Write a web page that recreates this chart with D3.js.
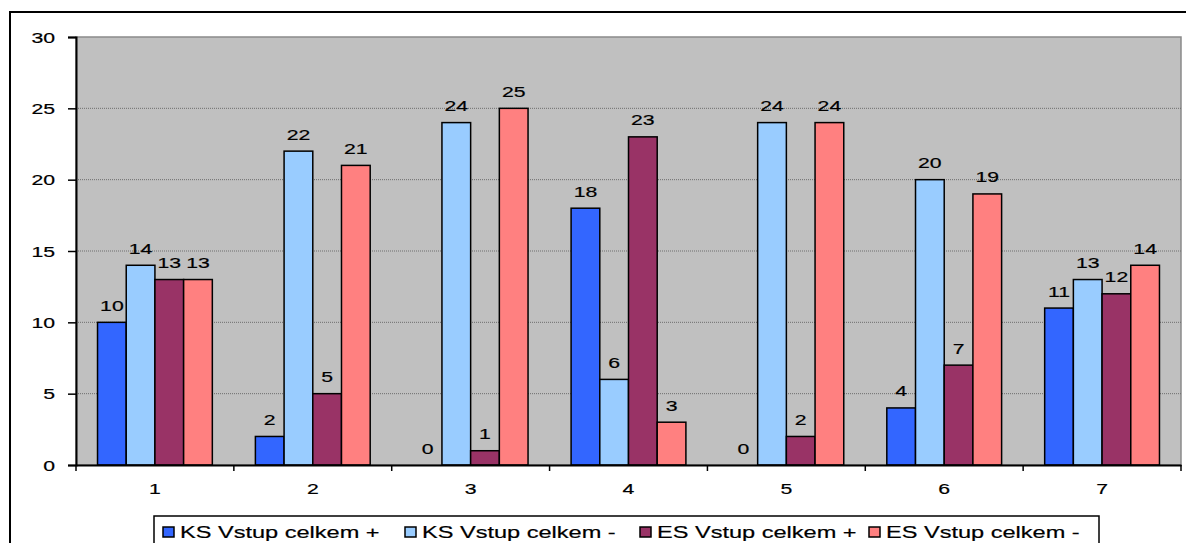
<!DOCTYPE html>
<html><head><meta charset="utf-8">
<script src="https://cdn.jsdelivr.net/npm/d3@7"></script>
<style>body{margin:0;background:#fff}svg{display:block}text{font-family:Arial,"Liberation Sans",sans-serif}</style>
</head><body><svg id="c" width="1186" height="543"></svg>
<script>
const categories = ["1","2","3","4","5","6","7"];
const seriesNames = ["KS Vstup celkem +","KS Vstup celkem -","ES Vstup celkem +","ES Vstup celkem -"];
const ksPlus  = [10, 2, 0, 18, 0, 4, 11];
const ksMinus = [14, 22, 24, 6, 24, 20, 13];
const esPlus  = [13, 5, 1, 23, 2, 7, 12];
const esMinus = [13, 21, 25, 3, 24, 19, 14];
const yTicks = [0,5,10,15,20,25,30];
const colors = ["#3366FF","#99CCFF","#993366","#FF8080"];
const series = [ksPlus, ksMinus, esPlus, esMinus];

const svg = d3.select("#c");
const SX = 1.37, FS = 15.5;
function stext(g, x, y, str, anchor, size){
  return g.append("text").attr("font-size", size||FS).attr("fill","#000")
    .attr("stroke","#000").attr("stroke-width",0.2)
    .attr("text-anchor", anchor||"middle")
    .attr("transform", `translate(${x},${y}) scale(${SX},1)`).text(str);
}

// outer frame
svg.append("rect").attr("x",10).attr("y",12).attr("width",1200).attr("height",560)
  .attr("fill","#fff").attr("stroke","#000").attr("stroke-width",2);

const L=76, R=1181, T=37, B=465;
const x = d3.scaleBand().domain(categories).range([L,R]).paddingInner(0).paddingOuter(0);
const y = d3.scaleLinear().domain([0,30]).range([B,T]);
const bw = x.bandwidth()/5.5;
const xs = d3.scaleBand().domain(d3.range(4)).range([bw*0.75, bw*4.75]).padding(0);

svg.append("rect").attr("x",L).attr("y",T).attr("width",R-L).attr("height",B-T)
  .attr("fill","#C0C0C0").attr("stroke","#8a8a8a").attr("stroke-width",1.5);

// gridlines
svg.append("g").selectAll("line").data(yTicks.filter(d=>d>0 && d<30)).join("line")
  .attr("x1",L).attr("x2",R).attr("y1",d=>y(d)).attr("y2",d=>y(d))
  .attr("stroke","#6e6e6e").attr("stroke-width",1).attr("stroke-dasharray","1,1");

// bars
const g = svg.append("g");
series.forEach((s,si)=>{
  g.selectAll(null).data(s).join("rect")
    .attr("x",(d,i)=>x(categories[i])+xs(si))
    .attr("y",d=>y(d)).attr("width",xs.bandwidth()).attr("height",d=>B-y(d))
    .attr("fill",colors[si]).attr("stroke","#000").attr("stroke-width",1.5)
    .attr("display",d=>d===0?"none":null);
});
// labels
series.forEach((s,si)=>{
  s.forEach((d,i)=>{
    stext(svg, x(categories[i])+xs(si)+xs.bandwidth()/2, y(d)-11.5, String(d));
  });
});

// y axis
const ya = svg.append("g").attr("transform",`translate(${L},0)`)
  .call(d3.axisLeft(y).tickValues(yTicks).tickSize(8).tickFormat(""));
ya.select(".domain").attr("stroke","#000").attr("stroke-width",2);
ya.selectAll(".tick line").attr("stroke","#000").attr("stroke-width",1.5);
yTicks.forEach(t=>stext(svg, 55, y(t)+5.5, String(t), "end"));

// x axis
const xa = svg.append("g").attr("transform",`translate(0,${B})`)
  .call(d3.axisBottom(x).tickSize(0).tickFormat(""));
xa.select(".domain").attr("stroke","#000").attr("stroke-width",2);
xa.selectAll(".tick").remove();
const bounds = categories.map(c=>x(c)).concat([R]);
svg.append("g").selectAll("line").data(bounds).join("line")
  .attr("x1",d=>d).attr("x2",d=>d).attr("y1",B).attr("y2",B+6)
  .attr("stroke","#000").attr("stroke-width",1.5);
categories.forEach(c=>stext(svg, x(c)+x.bandwidth()/2, 494, c));

// legend
const lg = svg.append("g");
lg.append("rect").attr("x",154).attr("y",516).attr("width",945).attr("height",40)
  .attr("fill","#fff").attr("stroke","#000").attr("stroke-width",1.5);
const markX = [163, 405, 640, 869];
seriesNames.forEach((n,i)=>{
  lg.append("rect").attr("x",markX[i]).attr("y",527).attr("width",11).attr("height",10)
    .attr("fill",colors[i]).attr("stroke","#000").attr("stroke-width",1.5);
  stext(lg, markX[i]+17, 538, n, "start", 17.2);
});
</script></body></html>
